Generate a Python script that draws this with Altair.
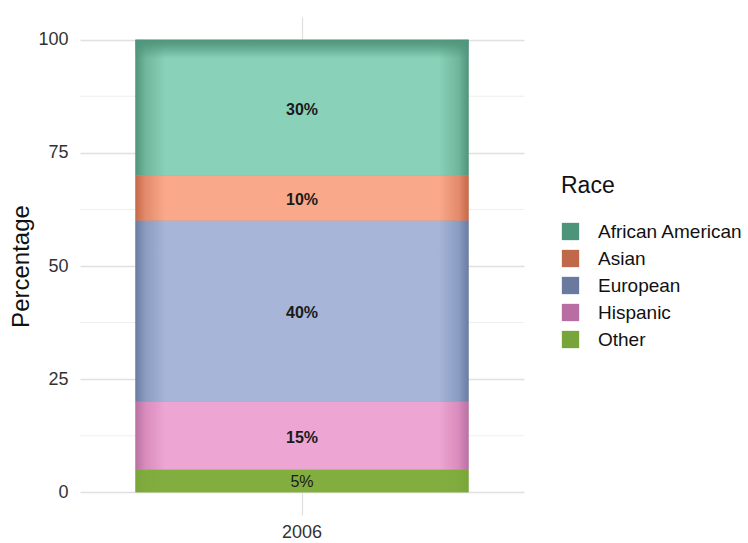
import altair as alt
import pandas as pd

# ---- data ----
years = ["2006"] * 5
races = ["African American", "Asian", "European", "Hispanic", "Other"]
percentages = [30, 10, 40, 15, 5]
labels = ["30%", "10%", "40%", "15%", "5%"]
major_ticks = [0, 25, 50, 75, 100]
minor_ticks = [12.5, 37.5, 62.5, 87.5]

# ---- styles ----
legend_colors = ["#4e947b", "#c0694a", "#6a7a9e", "#b86ea2", "#78a53a"]
edge_colors = ["#4f957c", "#c56a4b", "#6b7ca2", "#b970a3", "#79a53a"]
mid_colors = ["#6fb69d", "#e38b6c", "#8a9cc1", "#d98cbd", "#80ab3e"]
light_colors = ["#8ad1b9", "#f9a98a", "#a6b5d8", "#eda6d3", "#82ad3f"]

df = pd.DataFrame({
    "Year": years,
    "Race": races,
    "Percentage": percentages,
    "Label": labels,
    "ord": list(range(len(races))),
})
minor_df = pd.DataFrame({"v": minor_ticks})

FONT = "Liberation Sans"
BAR = 333

yscale = alt.Scale(domain=[-5, 105], nice=False, zero=False)
xscale = alt.Scale(domain=["2006"])

stacked = alt.Chart(df).transform_stack(
    stack="Percentage",
    groupby=["Year"],
    as_=["y0", "y1"],
    sort=[alt.SortField("ord", order="descending")],
)

x_enc = alt.X(
    "Year:N", scale=xscale, title=None,
    axis=alt.Axis(
        labelAngle=0, labelFontSize=18, labelColor="#333333", labelFont=FONT,
        labelPadding=8, ticks=False, domain=False, grid=True,
        bandPosition=0.5, gridColor="#e0e0e0", gridWidth=1.2,
    ),
)

minor = alt.Chart(minor_df).mark_rule(color="#eeeeee", strokeWidth=1).encode(
    y=alt.Y("v:Q", scale=yscale, title="Percentage"),
)

base = stacked.mark_bar(size=BAR).encode(
    x=x_enc,
    y=alt.Y(
        "y0:Q", scale=yscale, title="Percentage",
        axis=alt.Axis(
            values=major_ticks, labelFontSize=18, labelColor="#333333",
            labelFont=FONT, labelPadding=12, ticks=False, domain=False,
            gridColor="#e0e0e0", gridWidth=1.4,
            titleFontSize=24, titleFont=FONT, titleFontWeight="normal",
            titleColor="#111111", titlePadding=4,
        ),
    ),
    y2="y1:Q",
    color=alt.Color(
        "Race:N",
        scale=alt.Scale(domain=races, range=legend_colors),
        legend=alt.Legend(
            title="Race", orient="none", legendX=481, legendY=158,
            titleFontSize=23, titleFont=FONT, titleFontWeight="normal",
            titleColor="#111111", titlePadding=24,
            labelFontSize=19, labelFont=FONT, labelColor="#111111",
            symbolType="square", symbolSize=300, symbolStrokeWidth=0,
            symbolOpacity=1, rowPadding=7, labelOffset=18,
        ),
    ),
)

layers = [minor, base]
for i, r in enumerate(races):
    grad = alt.LinearGradient(
        gradient="linear", x1=0, x2=1, y1=0, y2=0,
        stops=[
            alt.GradientStop(offset=0, color=edge_colors[i]),
            alt.GradientStop(offset=0.03, color=mid_colors[i]),
            alt.GradientStop(offset=0.09, color=light_colors[i]),
            alt.GradientStop(offset=0.91, color=light_colors[i]),
            alt.GradientStop(offset=0.97, color=mid_colors[i]),
            alt.GradientStop(offset=1, color=edge_colors[i]),
        ],
    )
    layer = stacked.transform_filter(alt.datum.Race == r).mark_bar(
        size=BAR, fill=grad
    ).encode(
        x=alt.X("Year:N", scale=xscale),
        y=alt.Y("y0:Q", scale=yscale, title="Percentage"),
        y2="y1:Q",
    )
    layers.append(layer)

# darker band along the top of the top segment
top_grad = alt.LinearGradient(
    gradient="linear", x1=0, x2=0, y1=0, y2=1,
    stops=[
        alt.GradientStop(offset=0, color="rgba(79,149,124,1)"),
        alt.GradientStop(offset=0.04, color="rgba(79,149,124,0.8)"),
        alt.GradientStop(offset=0.14, color="rgba(79,149,124,0)"),
        alt.GradientStop(offset=1, color="rgba(79,149,124,0)"),
    ],
)
top_layer = stacked.transform_filter(alt.datum.Race == races[0]).mark_bar(
    size=BAR, fill=top_grad
).encode(
    x=alt.X("Year:N", scale=xscale),
    y=alt.Y("y0:Q", scale=yscale, title="Percentage"),
    y2="y1:Q",
)
layers.append(top_layer)

text_bold = stacked.transform_filter(alt.datum.Race != "Other").transform_calculate(
    mid="(datum.y0 + datum.y1) / 2"
).mark_text(
    font=FONT, fontSize=16, fontWeight="bold", color="#1a1a1a", baseline="middle", dy=2
).encode(
    x=alt.X("Year:N", scale=xscale),
    y=alt.Y("mid:Q", scale=yscale, title="Percentage"),
    text="Label:N",
)
text_plain = stacked.transform_filter(alt.datum.Race == "Other").transform_calculate(
    mid="(datum.y0 + datum.y1) / 2"
).mark_text(
    font=FONT, fontSize=16, fontWeight="normal", color="#1a1a1a", baseline="middle", dy=1
).encode(
    x=alt.X("Year:N", scale=xscale),
    y=alt.Y("mid:Q", scale=yscale, title="Percentage"),
    text="Label:N",
)
layers += [text_bold, text_plain]

chart = alt.layer(*layers).properties(
    width=444,
    height=498,
    autosize=alt.AutoSizeParams(type="none"),
    padding={"left": 80, "top": 17, "right": 224, "bottom": 28},
    background="white",
).configure_view(stroke=None).configure_scale(bandPaddingInner=0, bandPaddingOuter=0)

chart.save("out.html", embed_options={"renderer": "svg", "actions": False})
